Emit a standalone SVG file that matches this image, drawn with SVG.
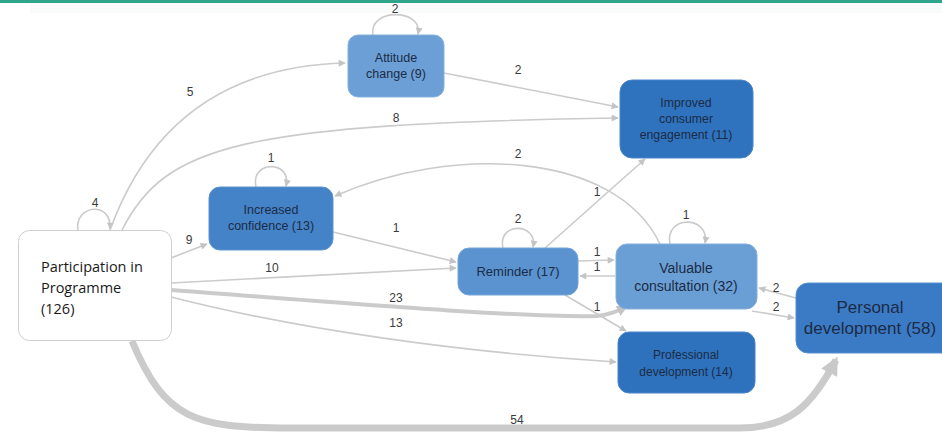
<svg xmlns="http://www.w3.org/2000/svg" width="942" height="432" viewBox="0 0 942 432">
<defs>
<marker id="ah" viewBox="0 0 10 10" refX="9" refY="5" markerWidth="8" markerHeight="7" markerUnits="userSpaceOnUse" orient="auto"><path d="M0,0 L10,5 L0,10 z" fill="#c4c4c4"/></marker>
<marker id="ahm" viewBox="0 0 10 10" refX="8" refY="5" markerWidth="12" markerHeight="11" markerUnits="userSpaceOnUse" orient="auto"><path d="M0,0 L10,5 L0,10 z" fill="#c4c4c4"/></marker>
<marker id="ahl" viewBox="0 0 10 10" refX="8" refY="5" markerWidth="18" markerHeight="18" markerUnits="userSpaceOnUse" orient="auto"><path d="M0,0 L10,5 L0,10 z" fill="#c8c8c8"/></marker>
<style>
.e{fill:none;stroke:#cbcbcb;stroke-width:1.6;marker-end:url(#ah)}
.lb{font-family:"Liberation Sans",Arial,sans-serif;font-size:12px;fill:#3a3a3a;text-anchor:middle}
.n{font-family:"Liberation Sans",Arial,sans-serif;fill:#1c2b45;text-anchor:middle}
</style>
</defs>
<rect x="0" y="0" width="942" height="432" fill="#ffffff"/>
<rect x="0" y="0" width="942" height="3" fill="#2fa58c"/>
<rect x="30" y="3" width="912" height="10" fill="#f9fbfa"/>
<g id="connectors">
<path class="e" d="M78,230 C74,205 112,200 110,229"/>
<path class="e" d="M110,230 C150,120 230,66 345,63"/>
<path class="e" d="M122,230 C165,145 240,124 618,118"/>
<path class="e" d="M171,258 L207,244"/>
<path class="e" d="M171,283 L456,268"/>
<path d="M171,290 C330,302 520,318 597,316 C608,315 616,312 626,307" fill="none" stroke="#cbcbcb" stroke-width="4" marker-end="url(#ahm)"/>
<path class="e" d="M171,297 C300,330 460,352 616,362"/>
<path d="M132,341 C165,420 195,428 290,428 L740,428 C790,428 812,405 836,360" fill="none" stroke="#cbcbcb" stroke-width="7" marker-end="url(#ahl)"/>
<path class="e" d="M373,35 C368,8 423,8 418,34"/>
<path class="e" d="M444,73 L618,107"/>
<path class="e" d="M256,187 C250,160 292,160 286,186"/>
<path class="e" d="M333,232 L456,262"/>
<path class="e" d="M660,244 C615,150 450,145 335,196"/>
<path class="e" d="M503,248 C497,222 538,222 533,247"/>
<path class="e" d="M545,248 L645,159"/>
<path class="e" d="M578,261 L614,260"/>
<path class="e" d="M615,276 L580,276"/>
<path class="e" d="M565,295 L626,331"/>
<path class="e" d="M670,244 C664,215 710,215 705,243"/>
<path class="e" d="M796,298 L759,288"/>
<path class="e" d="M752,311 L794,318"/>
</g>
<g id="edge-labels">
<text class="lb" x="95" y="207">4</text>
<text class="lb" x="190" y="96">5</text>
<text class="lb" x="396" y="122">8</text>
<text class="lb" x="189" y="244">9</text>
<text class="lb" x="272" y="272">10</text>
<text class="lb" x="396" y="302">23</text>
<text class="lb" x="396" y="327">13</text>
<text class="lb" x="517" y="424">54</text>
<text class="lb" x="395" y="13">2</text>
<text class="lb" x="518" y="74">2</text>
<text class="lb" x="271" y="162">1</text>
<text class="lb" x="396" y="232">1</text>
<text class="lb" x="518" y="158">2</text>
<text class="lb" x="518" y="223">2</text>
<text class="lb" x="597" y="196">1</text>
<text class="lb" x="597" y="256">1</text>
<text class="lb" x="597" y="271">1</text>
<text class="lb" x="597" y="311">1</text>
<text class="lb" x="686" y="219">1</text>
<text class="lb" x="776" y="292">2</text>
<text class="lb" x="776" y="311">2</text>
</g>
<g id="participation">
<rect x="18.5" y="230.5" width="153" height="110" rx="11" fill="#ffffff" stroke="#cfcfcf"/>
<text font-family="'Open Sans','Noto Sans',sans-serif" font-size="14.5" fill="#1a1a1a"><tspan x="41" y="272">Participation in</tspan><tspan x="41" y="293">Programme</tspan><tspan x="41" y="314">(126)</tspan></text>
</g>
<g id="attitude">
<rect x="348" y="35" width="96" height="62" rx="10" fill="#6b9fd5" stroke="#86b1de"/>
<text class="n" font-size="12.5"><tspan x="396" y="62">Attitude</tspan><tspan x="396" y="78">change (9)</tspan></text>
</g>
<g id="improved">
<rect x="620" y="80" width="133" height="78" rx="12" fill="#2f73bf" stroke="#4a86c9"/>
<text class="n" font-size="12.3"><tspan x="686" y="107">Improved</tspan><tspan x="686" y="123">consumer</tspan><tspan x="686" y="139">engagement (11)</tspan></text>
</g>
<g id="increased">
<rect x="209" y="187" width="124" height="63" rx="11" fill="#4483c8" stroke="#5d95d0"/>
<text class="n" font-size="12.5"><tspan x="271" y="214">Increased</tspan><tspan x="271" y="230">confidence (13)</tspan></text>
</g>
<g id="reminder">
<rect x="458" y="248" width="120" height="47" rx="11" fill="#5a93d0" stroke="#74a5d8"/>
<text class="n" font-size="13" x="518" y="276">Reminder (17)</text>
</g>
<g id="valuable">
<rect x="616" y="244" width="141" height="65" rx="11" fill="#6a9fd5" stroke="#85b0dd"/>
<text class="n" font-size="14"><tspan x="686" y="273">Valuable</tspan><tspan x="686" y="291">consultation (32)</tspan></text>
</g>
<g id="personal">
<rect x="796" y="283" width="160" height="70" rx="12" fill="#3b7bc5" stroke="#5590cf"/>
<text class="n" font-size="17"><tspan x="870" y="313">Personal</tspan><tspan x="870" y="334">development (58)</tspan></text>
</g>
<g id="professional">
<rect x="618" y="332" width="137" height="61" rx="11" fill="#2e72bd" stroke="#4985c8"/>
<text class="n" font-size="12"><tspan x="686" y="359">Professional</tspan><tspan x="686" y="376">development (14)</tspan></text>
</g>
</svg>
